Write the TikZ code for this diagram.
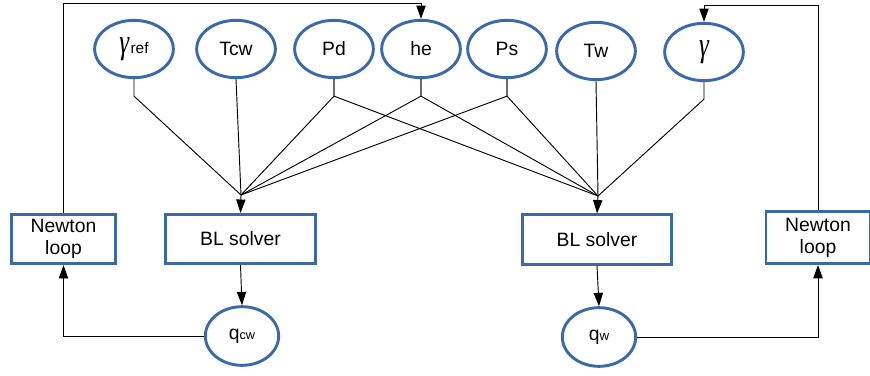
\documentclass[tikz,border=0pt]{standalone}
\usepackage{fontspec}
\setmainfont{Liberation Sans}
\newfontfamily\gamfont{Liberation Serif}
\usetikzlibrary{shapes.geometric,arrows.meta}
\definecolor{nodeblue}{RGB}{59,105,170}
\newcommand{\biggam}{{\gamfont\itshape\fontsize{26}{26}\selectfont\scalebox{0.72}[1]{γ}}}

\begin{document}
\begin{tikzpicture}[x=0.75pt,y=-0.75pt,>={Triangle[length=10pt,width=7pt]},
    var/.style={ellipse,draw=nodeblue,line width=2.2pt,minimum width=59pt,minimum height=43pt,inner sep=0pt,font=\fontsize{14.5}{17}\selectfont},
    outvar/.style={var,minimum width=55pt,minimum height=44pt},
    block/.style={rectangle,draw=nodeblue,line width=2.2pt,align=center,inner sep=0pt,minimum height=37pt,font=\fontsize{14.5}{16.5}\selectfont},
    link/.style={line width=0.7pt}]
    \useasboundingbox (0,0) rectangle (870,375);

    % inputs
    \node[var] (gref) at (134,49) {\biggam\kern1pt{\fontsize{11.5}{12}\selectfont ref}};
    \node[var] (tcw) at (236,49) {Tcw};
    \node[var] (pd) at (334,49) {Pd};
    \node[var] (he) at (421,49) {he};
    \node[var] (ps) at (507,49) {Ps};
    \node[var] (tw) at (596,51) {Tw};
    \node[var] (gam) at (704,52) {\biggam};

    % solvers and loops
    \node[block,minimum width=113pt] (bll) at (240.5,239) {BL solver};
    \node[block,minimum width=112pt] (blr) at (597,239.5) {BL solver};
    \node[block,minimum width=78pt] (nl) at (63.5,239) {Newton\\loop};
    \node[block,minimum width=78pt,minimum height=39pt] (nr) at (818,237.5) {Newton\\loop};

    % outputs
    \node[outvar] (qcw) at (242,336) {q{\fontsize{9.5}{10}\selectfont cw}};
    \node[outvar] (qw) at (599,337) {q{\fontsize{10}{10}\selectfont w}};

    \coordinate (jl) at (241,195);
    \coordinate (jr) at (598,196);
    \coordinate (top) at (0,3);
    \coordinate (topr) at (0,5);

    % to the left solver
    \draw[link] (gref.south) -- ++(0,17) -- (jl);
    \draw[link] (tcw.south) -- (jl);
    \draw[link] (pd.south) -- ++(0,17) -- (jl);
    \draw[link] (he.south) -- ++(0,17) -- (jl);
    \draw[link] (ps.south) -- ++(0,17) -- (jl);
    \draw[link,->] (jl) -- (bll.north);

    % to the right solver
    \draw[link] (pd.south) -- ++(0,17) -- (jr);
    \draw[link] (he.south) -- ++(0,17) -- (jr);
    \draw[link] (ps.south) -- ++(0,17) -- (jr);
    \draw[link] (tw.south) -- (jr);
    \draw[link] (gam.south) -- ++(0,17) -- (jr);
    \draw[link,->] (jr) -- (blr.north);

    \draw[link,->] (bll.south) -- (qcw.north);
    \draw[link,->] (blr.south) -- (qw.north);

    % newton loops
    \draw[link,->] (qcw.west) -| (nl.south);
    \draw[link,->] (qw.east) -| (nr.south);
    \draw[link,->] (nl.north) |- (he.north |- top) -- (he.north);
    \draw[link,->] (nr.north) |- (gam.north |- topr) -- (gam.north);
\end{tikzpicture}
\end{document}
